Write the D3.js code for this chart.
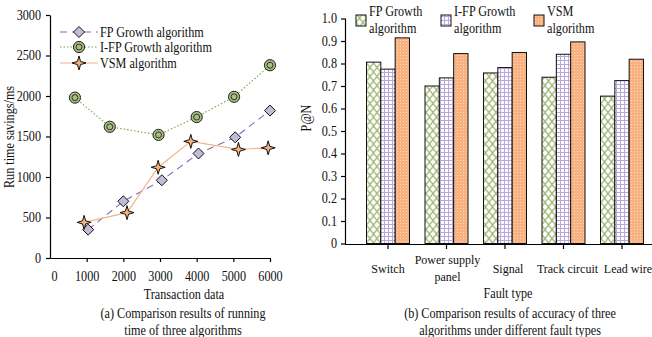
<!DOCTYPE html>
<html>
<head>
<meta charset="utf-8">
<script src="https://cdn.jsdelivr.net/npm/d3@7"></script>
<style>
  html, body { margin: 0; padding: 0; background: #fff; }
  svg { display: block; }
  text { font-family: "Liberation Serif", "Times New Roman", serif; fill: #111; }
</style>
</head>
<body>
<svg id="chart" width="652" height="337"></svg>
<script>
// ---------- Data: left chart (run time savings) ----------
const lineXTicks = [0, 1000, 2000, 3000, 4000, 5000, 6000];
const lineYTicks = [0, 500, 1000, 1500, 2000, 2500, 3000];
const lineSeriesNames = ["FP Growth algorithm", "I-FP Growth algorithm", "VSM algorithm"];
const fpX   = [1040, 2000, 3050, 4050, 5050, 6000];
const fpY   = [350, 700, 960, 1290, 1490, 1820];
const ifpX  = [680, 1630, 2960, 4000, 5020, 6000];
const ifpY  = [1980, 1620, 1520, 1740, 1990, 2380];
const vsmX  = [930, 2100, 2950, 3840, 5140, 5950];
const vsmY  = [440, 560, 1120, 1440, 1340, 1360];

// ---------- Data: right chart (P@N accuracy) ----------
const faultTypes = ["Switch", "Power supply panel", "Signal", "Track circuit", "Lead wire"];
const barSeriesNames = ["FP Growth algorithm", "I-FP Growth algorithm", "VSM algorithm"];
const fpAcc  = [0.806, 0.700, 0.758, 0.739, 0.655];
const ifpAcc = [0.775, 0.736, 0.782, 0.841, 0.724];
const vsmAcc = [0.914, 0.844, 0.849, 0.896, 0.819];
const barYTicks = [0, 0.1, 0.2, 0.3, 0.4, 0.5, 0.6, 0.7, 0.8, 0.9, 1.0];

const svg = d3.select("#chart");
const FS = 14;
const CAT_FS = 12;
const SQUEEZE = 0.87;

// ---------- patterns ----------
const defs = svg.append("defs");
const pFP = defs.append("pattern").attr("id", "pFP").attr("patternUnits", "userSpaceOnUse")
  .attr("width", 7).attr("height", 9).attr("x", 366.5).attr("y", 0);
pFP.append("rect").attr("width", 7).attr("height", 9).attr("fill", "#fff");
pFP.append("path").attr("d", "M0,0 L7,9 M7,0 L0,9").attr("stroke", "#93ad63").attr("stroke-width", 1.1).attr("fill", "none");

const pIFP = defs.append("pattern").attr("id", "pIFP").attr("patternUnits", "userSpaceOnUse")
  .attr("width", 4).attr("height", 4);
pIFP.append("rect").attr("width", 4).attr("height", 4).attr("fill", "#fbfaff");
pIFP.append("path").attr("d", "M0,0.5 H4 M0.5,0 V4").attr("stroke", "#b9a9da").attr("stroke-width", 1).attr("fill", "none");

const pVSM = defs.append("pattern").attr("id", "pVSM").attr("patternUnits", "userSpaceOnUse")
  .attr("width", 3).attr("height", 3);
pVSM.append("rect").attr("width", 3).attr("height", 3).attr("fill", "#f8b17f");
pVSM.append("circle").attr("cx", 1.5).attr("cy", 1.5).attr("r", 0.6).attr("fill", "#fde0c8");

// ================= LEFT CHART =================
const xL = d3.scaleLinear().domain([0, 6000]).range([50, 270]);
const yL = d3.scaleLinear().domain([0, 3000]).range([258, 15]);

const gL = svg.append("g");
const axL = gL.append("g").attr("transform", "translate(0,258)")
  .call(d3.axisBottom(xL).tickValues(lineXTicks).tickFormat(d3.format("d")).tickSize(4).tickPadding(9).tickSizeOuter(0));
axL.select(".tick line").remove(); // no tick at 0
axL.select(".tick text").attr("dx", 4);
const ayL = gL.append("g").attr("transform", "translate(50,0)")
  .call(d3.axisLeft(yL).tickValues(lineYTicks).tickFormat(d3.format("d")).tickSize(4).tickPadding(5).tickSizeOuter(0));
[axL, ayL].forEach(a => {
  a.selectAll("path, line").attr("stroke", "#000").attr("stroke-width", 1.2);
  a.attr("font-family", null).attr("font-size", null);
  a.selectAll("text").attr("font-size", FS);
});

gL.append("text").attr("transform", "translate(14,137) rotate(-90)").attr("text-anchor", "middle")
  .attr("font-size", FS).text("Run time savings/ms");
gL.append("text").attr("x", 184).attr("y", 299).attr("text-anchor", "middle").attr("font-size", FS).text("Transaction data");
gL.append("text").attr("x", 183).attr("y", 318).attr("text-anchor", "middle").attr("font-size", FS).text("(a) Comparison results of running");
gL.append("text").attr("x", 183).attr("y", 335).attr("text-anchor", "middle").attr("font-size", FS).text("time of three algorithms");

const line = d3.line().x(d => xL(d[0])).y(d => yL(d[1]));
const fpPts = fpX.map((x, i) => [x, fpY[i]]);
const ifpPts = ifpX.map((x, i) => [x, ifpY[i]]);
const vsmPts = vsmX.map((x, i) => [x, vsmY[i]]);

const styles = [
  { pts: fpPts,  color: "#7f6cb6", dash: "7,5", width: 1.1, marker: "diamond" },
  { pts: ifpPts, color: "#7ea23f", dash: "1.5,2", width: 1.1, marker: "circle" },
  { pts: vsmPts, color: "#f6b489", dash: null, width: 1.2, marker: "star" }
];

function drawMarker(g, type, cx, cy) {
  if (type === "diamond") {
    g.append("path").attr("d", `M${cx},${cy-5.5} L${cx+5.5},${cy} L${cx},${cy+5.5} L${cx-5.5},${cy} Z`)
      .attr("fill", "#c3bbd8").attr("stroke", "#111").attr("stroke-width", 1);
  } else if (type === "circle") {
    g.append("circle").attr("cx", cx).attr("cy", cy).attr("r", 5.6).attr("fill", "#a6bf80").attr("stroke", "#222").attr("stroke-width", 1);
    g.append("circle").attr("cx", cx).attr("cy", cy).attr("r", 3).attr("fill", "none").attr("stroke", "#333").attr("stroke-width", 1);
    g.append("circle").attr("cx", cx).attr("cy", cy).attr("r", 1.3).attr("fill", "#a6bf80");
  } else {
    const r1 = 7, r2 = 2.2;
    const pts = [];
    for (let k = 0; k < 8; k++) {
      const a = -Math.PI / 2 + k * Math.PI / 4;
      const r = k % 2 === 0 ? r1 : r2;
      pts.push([cx + r * Math.cos(a), cy + r * Math.sin(a)]);
    }
    g.append("path").attr("d", "M" + pts.map(p => p.join(",")).join("L") + "Z")
      .attr("fill", "#f7b27c").attr("stroke", "#111").attr("stroke-width", 1);
  }
}

styles.forEach(s => {
  gL.append("path").datum(s.pts).attr("d", line).attr("fill", "none")
    .attr("stroke", s.color).attr("stroke-width", s.width).attr("stroke-dasharray", s.dash);
});
styles.forEach(s => {
  const mg = gL.append("g");
  s.pts.forEach(p => drawMarker(mg, s.marker, xL(p[0]), yL(p[1])));
});

// legend left
const legY = [32, 47, 63];
lineSeriesNames.forEach((name, i) => {
  const s = styles[i];
  const lg = gL.append("g");
  lg.append("line").attr("x1", 60).attr("x2", 98).attr("y1", legY[i]).attr("y2", legY[i])
    .attr("stroke", s.color).attr("stroke-width", s.width).attr("stroke-dasharray", s.dash);
  drawMarker(lg, s.marker, 79, legY[i]);
  lg.append("text").attr("x", 100).attr("y", legY[i] + 5).attr("font-size", FS).text(name);
});

// ================= RIGHT CHART =================
const xR = d3.scaleBand().domain(faultTypes).range([358.75, 651.25]).paddingInner(0.265).paddingOuter(0.1325);
const xSub = d3.scaleBand().domain([0, 1, 2]).range([0, xR.bandwidth()]);
const yR = d3.scaleLinear().domain([0, 1]).range([243.5, 18.5]);

const gR = svg.append("g");
const barData = [fpAcc, ifpAcc, vsmAcc];
const fills = ["url(#pFP)", "url(#pIFP)", "url(#pVSM)"];

faultTypes.forEach((cat, ci) => {
  barData.forEach((series, si) => {
    const x0 = xR(cat) + xSub(si);
    gR.append("rect").attr("x", x0).attr("y", yR(series[ci]))
      .attr("width", xSub.bandwidth()).attr("height", yR(0) - yR(series[ci]))
      .attr("fill", fills[si]).attr("stroke", "#111").attr("stroke-width", 1);
  });
});

const axR = gR.append("g").attr("transform", "translate(0,244)")
  .call(d3.axisBottom(xR).tickSize(5).tickFormat("").tickSizeOuter(0));
axR.select(".domain").attr("d", "M345,0.5H652");
const ayR = gR.append("g").attr("transform", "translate(345,0)")
  .call(d3.axisLeft(yR).tickValues(barYTicks).tickSize(4).tickPadding(4).tickSizeOuter(0)
    .tickFormat(d => d === 0 ? "0" : d3.format(".1f")(d)));
ayR.select(".domain").attr("d", "M0.5,244V18.5");
[axR, ayR].forEach(a => {
  a.selectAll("path, line").attr("stroke", "#000").attr("stroke-width", 1.2);
  a.attr("font-family", null).attr("font-size", null);
  a.selectAll("text").attr("font-size", FS);
});

// category labels (plain, slightly smaller so neighbours never collide)
const catLabelLines = { "Power supply panel": ["Power supply", "panel"] };
const catLabelShift = { "Switch": 0, "Signal": 3, "Track circuit": 4, "Lead wire": 6 };
faultTypes.forEach(cat => {
  const cx = xR(cat) + xR.bandwidth() / 2;
  const lines = catLabelLines[cat];
  if (lines) {
    gR.append("text").attr("class", "cat").attr("x", cx + 1).attr("y", 264).attr("text-anchor", "middle").attr("font-size", CAT_FS).text(lines[0]);
    gR.append("text").attr("class", "cat").attr("x", cx + 1).attr("y", 281).attr("text-anchor", "middle").attr("font-size", CAT_FS).text(lines[1]);
  } else {
    gR.append("text").attr("class", "cat").attr("x", cx + catLabelShift[cat])
      .attr("y", 273).attr("text-anchor", "middle").attr("font-size", CAT_FS).text(cat);
  }
});

gR.append("text").attr("transform", "translate(311,118) rotate(-90)").attr("text-anchor", "middle")
  .attr("font-size", FS).text("P@N");
gR.append("text").attr("x", 508).attr("y", 298).attr("text-anchor", "middle").attr("font-size", FS).text("Fault type");
gR.append("text").attr("x", 510).attr("y", 318).attr("text-anchor", "middle").attr("font-size", FS).text("(b) Comparison results of accuracy of three");
gR.append("text").attr("x", 510).attr("y", 335).attr("text-anchor", "middle").attr("font-size", FS).text("algorithms under different fault types");

// legend right
const legRX = [356, 441, 534];
barSeriesNames.forEach((name, i) => {
  const lg = gR.append("g");
  lg.append("rect").attr("x", legRX[i]).attr("y", 15).attr("width", 10).attr("height", 11)
    .attr("fill", fills[i]).attr("stroke", "#111").attr("stroke-width", 1);
  const parts = name.split(" ");
  const last = parts.pop();
  lg.append("text").attr("x", legRX[i] + 13).attr("y", 16).attr("font-size", FS).text(parts.join(" "));
  lg.append("text").attr("x", legRX[i] + 13).attr("y", 33).attr("font-size", FS).text(last);
});

// condense other text horizontally, like the narrow serif in the reference
svg.selectAll("text").filter(function () { return this.getAttribute("class") !== "cat"; }).each(function () {
  const L = this.getComputedTextLength();
  this.setAttribute("textLength", (L * SQUEEZE).toFixed(2));
  this.setAttribute("lengthAdjust", "spacingAndGlyphs");
});
</script>
</body>
</html>
